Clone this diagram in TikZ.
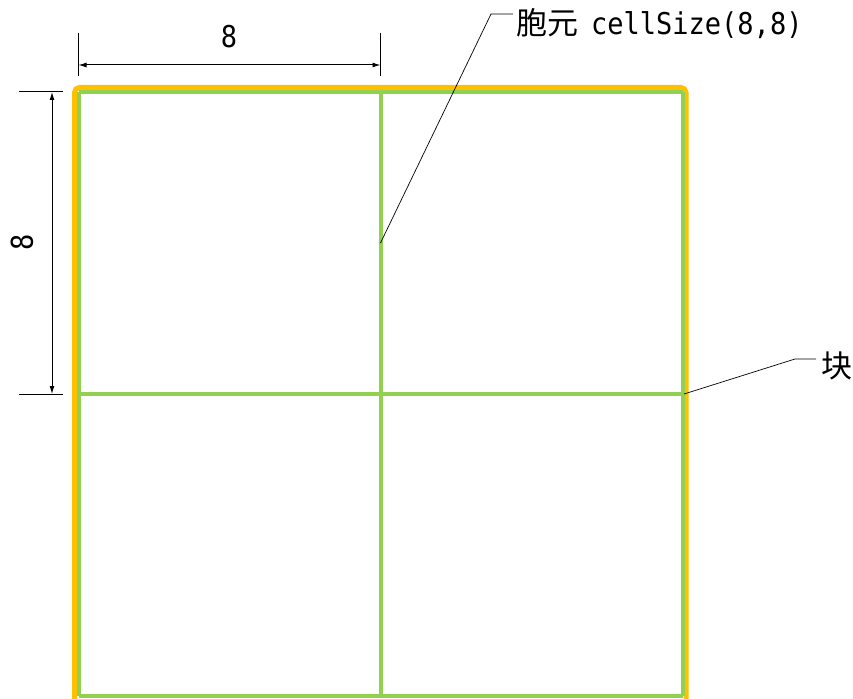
\documentclass[tikz,border=0pt]{standalone}
\usepackage{fontspec}
\newfontfamily\cjkfont{Noto Sans CJK SC}
\newfontfamily\halffont[FakeStretch=0.9]{DejaVu Sans Mono}
\usetikzlibrary{arrows.meta,positioning}
\definecolor{blockyellow}{HTML}{FFC000}
\definecolor{cellgreen}{HTML}{92D050}
\tikzset{
  blockline/.style={draw=blockyellow, line width=5pt, rounded corners=5pt},
  cellline/.style={draw=cellgreen, line width=4pt},
  extline/.style={draw=black, line width=1pt},
  dimline/.style={draw=black, line width=1pt, {Latex[length=8pt,width=5pt]}-{Latex[length=8pt,width=5pt]}},
  leader/.style={draw=black, line width=0.7pt},
  dimtext/.style={inner sep=0pt, font=\fontsize{30}{30}\selectfont\halffont},
  calltext/.style={inner sep=0pt, anchor=base west},
}
\begin{document}
\begin{tikzpicture}[x=1pt,y=-1pt]
\useasboundingbox (0,0) rectangle (853,698);
% block outline
\draw[blockline] (74.5,704) -- (74.5,87.5) -- (686,87.5) -- (686,704);
% cell grid
\foreach \i in {0,1,2} {
  \coordinate (gx-\i) at (78.5+302*\i,92);
  \coordinate (gy-\i) at (78.5,92+302*\i);
}
\foreach \i in {0,1,2} {
  \draw[cellline] (gx-\i) -- ++(0,604);
  \draw[cellline] (gy-\i) -- ++(604,0);
}
% dimensions
\coordinate (top-a) at (78.5,33);
\coordinate (top-b) at (380.5,33);
\coordinate (left-a) at (19,92);
\coordinate (left-b) at (19,394);
\draw[extline] (top-a) -- ++(0,43);
\draw[extline] (top-b) -- ++(0,43);
\draw[extline] (left-a) -- ++(44,0);
\draw[extline] (left-b) -- ++(44,0);
\draw[dimline] ([yshift=-32pt]top-a) -- ([yshift=-32pt]top-b);
\draw[dimline] ([xshift=33pt]left-a) -- ([xshift=33pt]left-b);
\node[dimtext] (toplabel) at (229,37) {8};
\node[dimtext, rotate=90] (leftlabel) at (22,242) {8};
% callouts
\node[calltext] (celltext) at (516,35) {{\fontsize{31}{31}\selectfont\cjkfont 胞元}\hspace{13pt}{\fontsize{30}{30}\selectfont\halffont cellSize(8,8)}};
\node[calltext] (blocktext) at (821,377) {\fontsize{31}{31}\selectfont\cjkfont 块};
\coordinate (cellpt) at (380.5,243);
\coordinate (cellknee) at (491,14);
\coordinate (blockpt) at (684,394);
\coordinate (blockknee) at (795,359);
\draw[leader] (cellpt) -- (cellknee) -- ([xshift=-3pt]cellknee -| celltext.west);
\draw[leader] (blockpt) -- (blockknee) -- ([xshift=-5pt]blockknee -| blocktext.west);
\end{tikzpicture}
\end{document}
